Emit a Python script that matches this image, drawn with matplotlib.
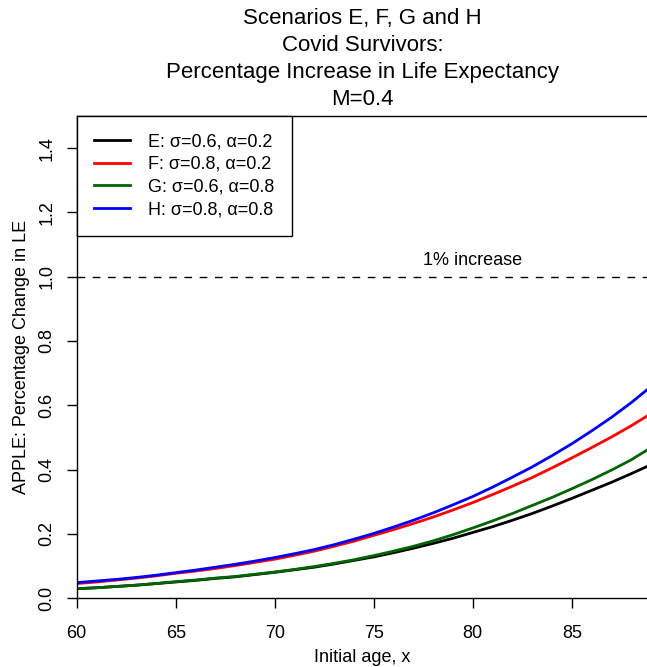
import matplotlib
matplotlib.use("Agg")
import matplotlib.pyplot as plt

plt.rcParams["font.family"] = ["Liberation Sans", "DejaVu Sans"]

# Initial age
ages = [60, 61, 62, 63, 64, 65, 66, 67, 68, 69, 70, 71, 72, 73, 74,
        75, 76, 77, 78, 79, 80, 81, 82, 83, 84, 85, 86, 87, 88, 89]

# APPLE: percentage change in LE
scen_E = [0.029, 0.032, 0.036, 0.040, 0.045, 0.050, 0.055, 0.061, 0.066, 0.073,
          0.080, 0.088, 0.096, 0.106, 0.117, 0.128, 0.141, 0.155, 0.170, 0.186,
          0.204, 0.222, 0.242, 0.263, 0.286, 0.310, 0.335, 0.360, 0.387, 0.415]
scen_F = [0.045, 0.050, 0.056, 0.062, 0.069, 0.077, 0.084, 0.092, 0.101, 0.111,
          0.121, 0.133, 0.146, 0.161, 0.177, 0.195, 0.213, 0.232, 0.252, 0.274,
          0.297, 0.322, 0.348, 0.375, 0.405, 0.436, 0.468, 0.501, 0.536, 0.574]
scen_G = [0.029, 0.032, 0.036, 0.040, 0.045, 0.051, 0.056, 0.062, 0.067, 0.074,
          0.081, 0.089, 0.098, 0.108, 0.119, 0.132, 0.146, 0.161, 0.178, 0.197,
          0.218, 0.240, 0.263, 0.288, 0.313, 0.340, 0.368, 0.398, 0.430, 0.468]
scen_H = [0.048, 0.053, 0.058, 0.064, 0.071, 0.079, 0.087, 0.096, 0.105, 0.115,
          0.126, 0.138, 0.151, 0.166, 0.183, 0.201, 0.221, 0.242, 0.265, 0.290,
          0.316, 0.345, 0.376, 0.408, 0.443, 0.480, 0.520, 0.562, 0.608, 0.658]

labels = ["E: σ=0.6, α=0.2", "F: σ=0.8, α=0.2",
          "G: σ=0.6, α=0.8", "H: σ=0.8, α=0.8"]
colors = ["black", "#ff0000", "#006400", "#0000ff"]

x_ticks = [60, 65, 70, 75, 80, 85]
y_ticks = [0.0, 0.2, 0.4, 0.6, 0.8, 1.0, 1.2, 1.4]

fig = plt.figure(figsize=(6.47, 6.67), dpi=100)
ax = fig.add_axes([0.1186, 0.1034, 0.8814, 0.7226])

for ys, col, lab in zip([scen_E, scen_F, scen_G, scen_H], colors, labels):
    ax.plot(ages, ys, color=col, lw=2.0, label=lab)

ax.axhline(1.0, color="black", lw=1.0, ls=(0, (5.5, 5.5)))
ax.text(80, 1.05, "1% increase", ha="center", va="center", fontsize=13)

ax.set_xlim(60, 88.8)
ax.set_ylim(0, 1.5)
ax.set_xticks(x_ticks)
ax.set_xticklabels([str(t) for t in x_ticks])
ax.set_yticks(y_ticks)
ax.set_yticklabels([f"{t:.1f}" for t in y_ticks], rotation=90, va="center")
ax.tick_params(axis="both", length=7.2, width=1.0, labelsize=13)
ax.tick_params(axis="x", pad=12)
ax.tick_params(axis="y", pad=8)
ax.spines["right"].set_visible(False)
for s in ["left", "top", "bottom"]:
    ax.spines[s].set_linewidth(1.0)

ax.set_xlabel("Initial age, x", fontsize=13, labelpad=5)
ax.set_ylabel("APPLE: Percentage Change in LE", fontsize=13, labelpad=6)

fig.text(0.56, 0.988, "Scenarios E, F, G and H\nCovid Survivors:\n"
         "Percentage Increase in Life Expectancy\nM=0.4",
         ha="center", va="top", fontsize=16, linespacing=1.37)

leg = ax.legend(loc="upper left", bbox_to_anchor=(0, 1), borderaxespad=0,
                fontsize=13, fancybox=False, framealpha=1, edgecolor="black",
                handlelength=2.0, handletextpad=1.0, labelspacing=0.32,
                borderpad=0.95)
leg.get_frame().set_linewidth(1.0)

fig.savefig("out.png", dpi=100)
